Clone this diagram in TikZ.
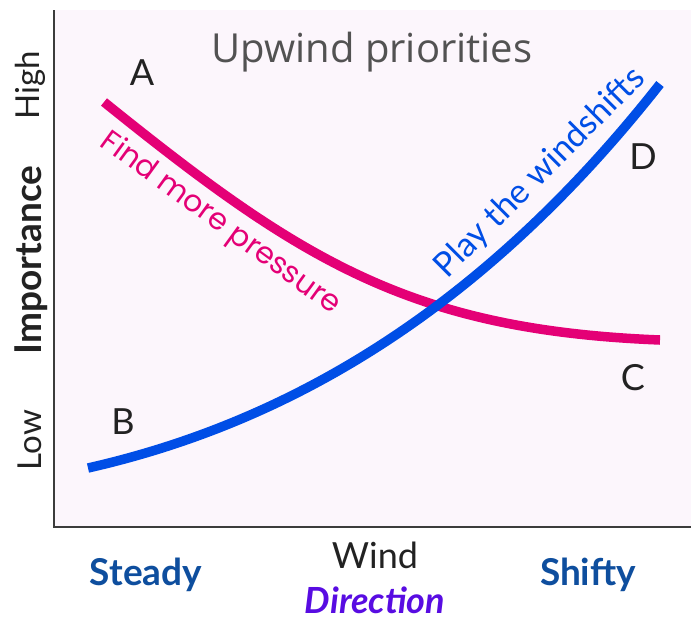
\documentclass[tikz,border=0pt]{standalone}
\usepackage{fontspec}
\setmainfont{Lato}
\newfontfamily\geofont{Poppins}
\newfontfamily\titlefont{Open Sans}
\definecolor{plotbg}{RGB}{252,246,252}
\definecolor{axisgray}{RGB}{60,60,60}
\definecolor{pressurepink}{RGB}{228,0,118}
\definecolor{shiftblue}{RGB}{0,78,230}
\definecolor{endblue}{RGB}{14,78,158}
\definecolor{dirpurple}{RGB}{88,12,226}
\definecolor{textdark}{RGB}{34,34,34}

\begin{document}
\begin{tikzpicture}[x=1pt,y=-1pt]
\tikzset{curve/.style = {line width=9.5pt}}
\tikzset{letter/.style = {font=\fontsize{36}{36}\selectfont, text=textdark}}
\tikzset{level/.style = {font=\fontsize{33}{33}\selectfont, text=textdark, rotate=90}}
\tikzset{extreme/.style = {font=\fontsize{37}{37}\selectfont\bfseries, text=endblue}}
\useasboundingbox (0,0) rectangle (691,622);
\fill[plotbg] (54,10) rectangle (691,527);
\draw[axisgray, line width=2pt] (54,10) -- (54,527) -- (691,527);
% the two curves
\draw[curve, pressurepink] (104,102) .. controls (300,260) and (410,330) .. (660,340);
\draw[curve, shiftblue] (88,468) .. controls (300,420) and (490,300) .. (660,84);
% texts
\node[font=\titlefont\fontsize{40}{40}\selectfont, text=black!68] (title) at (372,52) {Upwind priorities};
\node[letter] (a) at (142,73) {A};
\node[letter] (b) at (123,422) {B};
\node[letter] (c) at (633,378) {C};
\node[letter] (d) at (643,157) {D};
\node[font=\geofont\fontsize{30}{30}\selectfont, text=pressurepink, rotate=-36] (find) at (220,224) {Find more pressure};
\node[font=\fontsize{34}{34}\selectfont, text=shiftblue, rotate=45] (play) at (540,173) {Play the windshifts};
\node[level] (high) at (30,85) {High};
\node[level] (low) at (30,440) {Low};
\node[level, font=\fontsize{37}{37}\selectfont\bfseries] (imp) at (31,260) {Importance};
\node[extreme] (steady) at (146,575) {Steady};
\node[extreme] (shifty) at (588,575) {Shifty};
\node[font=\fontsize{36}{36}\selectfont, text=textdark] (wind) at (375,555) {Wind};
\node[font=\fontsize{36}{36}\selectfont\bfseries\itshape, text=dirpurple] (dir) at (375,600) {Direction};
\end{tikzpicture}
\end{document}
